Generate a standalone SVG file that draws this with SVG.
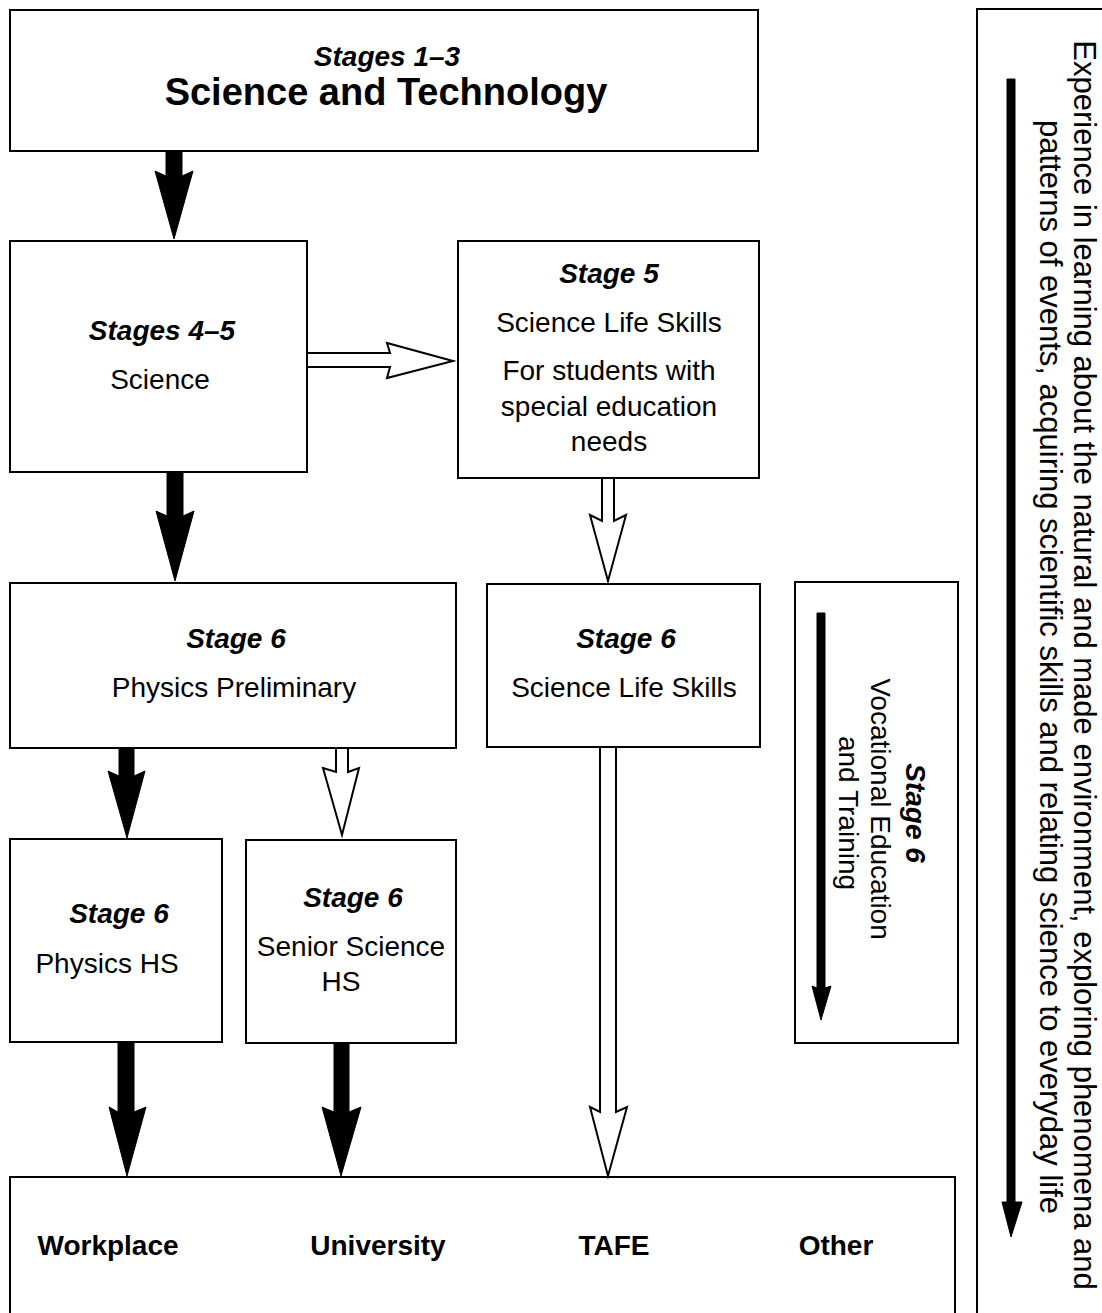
<svg xmlns="http://www.w3.org/2000/svg" width="1102" height="1313" viewBox="0 0 1102 1313">
<style>
  .box { fill: #fff; stroke: #000; stroke-width: 2; }
  .t { font-family: "Liberation Sans", Arial, Helvetica, sans-serif; font-size: 28px; fill: #000; text-anchor: middle; }
  .bi { font-weight: bold; font-style: italic; }
  .b { font-weight: bold; }
  .solid { fill: #000; stroke: #000; stroke-width: 1; stroke-linejoin: miter; }
  .hollow { fill: #fff; stroke: #000; stroke-width: 2; stroke-linejoin: miter; }
</style>
<rect width="1102" height="1313" fill="#fff"/>

<g id="node-stages13">
  <rect class="box" x="10" y="10" width="748" height="141"/>
  <text class="t bi" x="387" y="66">Stages 1–3</text>
  <text class="t b" x="386" y="105" style="font-size:38px">Science and Technology</text>
</g>

<g id="node-stages45">
  <rect class="box" x="10" y="241" width="297" height="231"/>
  <text class="t bi" x="162" y="340">Stages 4–5</text>
  <text class="t" x="160" y="389">Science</text>
</g>

<g id="node-stage5-sls">
  <rect class="box" x="458" y="241" width="301" height="237"/>
  <text class="t bi" x="609" y="283">Stage 5</text>
  <text class="t" x="609" y="332">Science Life Skills</text>
  <text class="t" x="609" y="380">For students with</text>
  <text class="t" x="609" y="416">special education</text>
  <text class="t" x="609" y="451">needs</text>
</g>

<g id="node-stage6-prelim">
  <rect class="box" x="10" y="583" width="446" height="165"/>
  <text class="t bi" x="236" y="648">Stage 6</text>
  <text class="t" x="234" y="697">Physics Preliminary</text>
</g>

<g id="node-stage6-sls">
  <rect class="box" x="487" y="584" width="273" height="163"/>
  <text class="t bi" x="626" y="648">Stage 6</text>
  <text class="t" x="624" y="697">Science Life Skills</text>
</g>

<g id="node-physics-hs">
  <rect class="box" x="10" y="839" width="212" height="203"/>
  <text class="t bi" x="119" y="923">Stage 6</text>
  <text class="t" x="107" y="973">Physics HS</text>
</g>

<g id="node-senior-science">
  <rect class="box" x="246" y="840" width="210" height="203"/>
  <text class="t bi" x="353" y="907">Stage 6</text>
  <text class="t" x="351" y="956">Senior Science</text>
  <text class="t" x="341" y="991">HS</text>
</g>

<g id="node-vet">
  <rect class="box" x="795" y="582" width="163" height="461"/>
  <polygon class="solid" points="817,613 825,613 825,988 831,986 821,1020 812,986 817,988"/>
  <text class="t bi" transform="translate(906,813) rotate(90)">Stage 6</text>
  <text class="t" transform="translate(871,809) rotate(90)">Vocational Education</text>
  <text class="t" transform="translate(839,813) rotate(90)">and Training</text>
</g>

<g id="node-destinations">
  <rect class="box" x="10" y="1177" width="945" height="150"/>
  <text class="t b" x="108" y="1255">Workplace</text>
  <text class="t b" x="378" y="1255">University</text>
  <text class="t b" x="614" y="1255">TAFE</text>
  <text class="t b" x="836" y="1255">Other</text>
</g>

<g id="node-experience">
  <rect class="box" x="977" y="9" width="140" height="1320"/>
  <polygon class="solid" points="1007,79 1015,79 1015,1202 1022,1202 1011,1237 1002,1202 1007,1202"/>
  <text class="t" style="font-size:31px" transform="translate(1074,665) rotate(90)">Experience in learning about the natural and made environment, exploring phenomena and</text>
  <text class="t" style="font-size:31px" transform="translate(1040,667) rotate(90)">patterns of events, acquiring scientific skills and relating science to everyday life</text>
</g>

<g id="connectors">
  <polygon class="solid" points="166,151 166,176 155,171 174,239 193,171 182,176 182,151"/>
  <polygon class="solid" points="167,473 167,516 156,511 175,581 194,511 183,516 183,473"/>
  <polygon class="hollow" points="307,353 390,353 387,343 453,361 387,378 390,367 307,367"/>
  <polygon class="hollow" points="602,478 602,521 590,515 608,581 626,515 614,521 614,478"/>
  <polygon class="solid" points="119,748 119,776 108,771 127,838 145,771 134,776 134,748"/>
  <polygon class="hollow" points="336,748 336,772 323,768 342,835 359,768 348,772 348,748"/>
  <polygon class="solid" points="118,1042 118,1112 109,1107 127,1176 146,1107 134,1112 134,1042"/>
  <polygon class="solid" points="334,1043 334,1112 322,1107 341,1176 361,1107 349,1112 349,1043"/>
  <polygon class="hollow" points="600,747 600,1112 590,1107 608,1176 627,1107 616,1112 616,747"/>
</g>
</svg>
